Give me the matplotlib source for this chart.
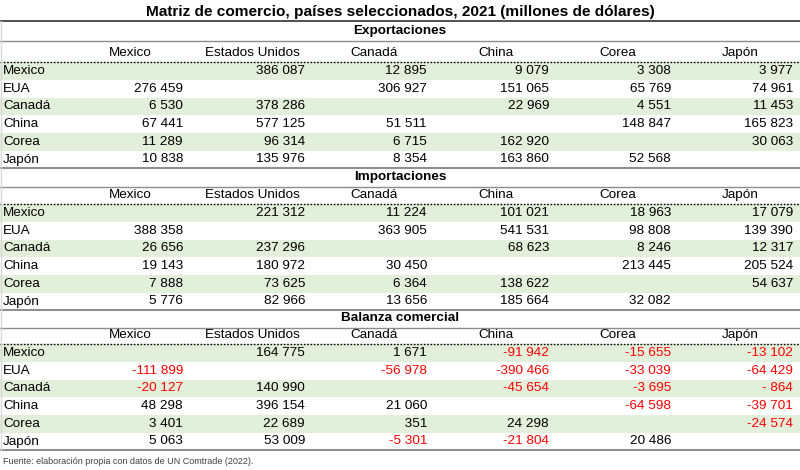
import matplotlib
matplotlib.use("Agg")
import matplotlib.pyplot as plt

plt.rcParams['font.family'] = ['Liberation Sans', 'DejaVu Sans']

titulo = "Matriz de comercio, países seleccionados, 2021 (millones de dólares)"
fuente = "Fuente: elaboración propia con datos de UN Comtrade (2022)."
secciones = ["Exportaciones", "Importaciones", "Balanza comercial"]
paises = ["Mexico", "EUA", "Canadá", "China", "Corea", "Japón"]
columnas = ["Mexico", "Estados Unidos", "Canadá", "China", "Corea", "Japón"]

exportaciones = [
    [None, 386087, 12895, 9079, 3308, 3977],
    [276459, None, 306927, 151065, 65769, 74961],
    [6530, 378286, None, 22969, 4551, 11453],
    [67441, 577125, 51511, None, 148847, 165823],
    [11289, 96314, 6715, 162920, None, 30063],
    [10838, 135976, 8354, 163860, 52568, None],
]
importaciones = [
    [None, 221312, 11224, 101021, 18963, 17079],
    [388358, None, 363905, 541531, 98808, 139390],
    [26656, 237296, None, 68623, 8246, 12317],
    [19143, 180972, 30450, None, 213445, 205524],
    [7888, 73625, 6364, 138622, None, 54637],
    [5776, 82966, 13656, 185664, 32082, None],
]
balanza = [
    [None, 164775, 1671, -91942, -15655, -13102],
    [-111899, None, -56978, -390466, -33039, -64429],
    [-20127, 140990, None, -45654, -3695, -864],
    [48298, 396154, 21060, None, -64598, -39701],
    [3401, 22689, 351, 24298, None, -24574],
    [5063, 53009, -5301, -21804, 20486, None],
]
tablas = [exportaciones, importaciones, balanza]


def fmt(v):
    # formato tipo Excel "### ###"
    a = abs(v)
    if a >= 1000:
        s = "%d %03d" % (a // 1000, a % 1000)
    else:
        s = " %d" % a
    return ("-" if v < 0 else "") + s


W, H = 800, 470
fig = plt.figure(figsize=(W / 100, H / 100), dpi=100)
ax = fig.add_axes([0, 0, 1, 1])
ax.set_xlim(0, W)
ax.set_ylim(H, 0)
ax.axis('off')

verde = "#E2EFDA"
rojo = "#FF0000"
gris = "#8C8C8C"
fs = 9.7

col_der = [183 + 122 * i for i in range(6)]
col_cen = [c - 53 for c in col_der]
paso = 17.7

# titulo
ax.text(W / 2, 12, titulo, ha='center', va='center', fontsize=11.1, fontweight='bold')
ax.plot([0, W], [20.8, 20.8], color="#505050", lw=1.4, solid_capstyle='butt')

sec_y = [31, 177, 318]
fila0 = [71, 213, 353]
for k, tabla in enumerate(tablas):
    y0 = fila0[k]
    ax.text(W / 2, sec_y[k], secciones[k], ha='center', va='center', fontsize=fs, fontweight='bold')
    ax.plot([0, W], [sec_y[k] + 10, sec_y[k] + 10], color=gris, lw=1.0)
    for j, c in enumerate(columnas):
        ax.text(col_cen[j], y0 - 18, c, ha='center', va='center', fontsize=fs)
    # bandas verdes
    for i in range(0, 6, 2):
        yc = y0 + i * paso
        ax.fill_between([0, W], yc - paso / 2, yc + paso / 2, color=verde, lw=0)
    ax.plot([0, W], [y0 - 9.3, y0 - 9.3], color="black", lw=1.0, ls=(0, (1.2, 1.2)))
    for i, p in enumerate(paises):
        yc = y0 + i * paso
        ax.text(3, yc, p, ha='left', va='center', fontsize=fs)
        for j, v in enumerate(tabla[i]):
            if v is None:
                continue
            ax.text(col_der[j], yc, fmt(v), ha='right', va='center', fontsize=fs,
                    color=rojo if v < 0 else "black")
    yb = y0 + 5 * paso + 8.5
    ax.plot([0, W], [yb, yb], color=gris, lw=1.4)

ax.plot([0.5, 0.5], [21, fila0[2] + 5 * paso + 8.5], color="#D8D8D8", lw=1.0)

ax.text(3, 461, fuente, ha='left', va='center', fontsize=6.5, color="#404040")

fig.savefig("out.png", dpi=100, facecolor="white")
